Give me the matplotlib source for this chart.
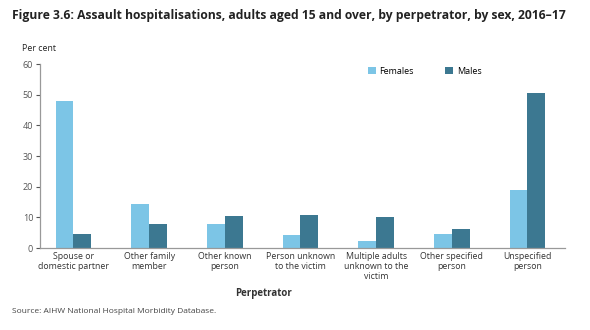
import numpy as np
import matplotlib.pyplot as plt

plt.rcParams["font.family"] = ["Open Sans", "DejaVu Sans"]

categories = ["Spouse or\ndomestic partner", "Other family\nmember", "Other known\nperson",
              "Person unknown\nto the victim", "Multiple adults\nunknown to the\nvictim",
              "Other specified\nperson", "Unspecified\nperson"]
females = [48.0, 14.5, 7.8, 4.3, 2.2, 4.7, 19.0]
males = [4.5, 8.0, 10.5, 10.8, 10.0, 6.2, 50.5]

C_F = "#7cc5e6"
C_M = "#3c7891"
GREY = "#555555"

fig = plt.figure(figsize=(5.9, 3.3), dpi=100)
ax = fig.add_axes([0.068, 0.248, 0.89, 0.558])

x = np.arange(len(categories))
w = 0.235
ax.bar(x - w / 2, females, w, color=C_F, label="Females")
ax.bar(x + w / 2, males, w, color=C_M, label="Males")

ax.set_xlim(-0.44, 6.5)
ax.set_ylim(0, 60)
ax.set_yticks(range(0, 61, 10))
ax.set_xticks(x)
ax.set_xticklabels(categories, fontsize=6.3, color="#333333", linespacing=1.1)
ax.tick_params(axis="y", labelsize=6.5, colors=GREY, length=3, width=0.8, pad=2)
ax.tick_params(axis="x", length=0, pad=3)
for s in ["top", "right"]:
    ax.spines[s].set_visible(False)
for s in ["left", "bottom"]:
    ax.spines[s].set_color("#999999")
    ax.spines[s].set_linewidth(0.9)

ax.legend(loc="upper left", bbox_to_anchor=(0.608, 1.03), ncol=2, frameon=False,
          fontsize=6.5, handlelength=0.9, handleheight=0.9, columnspacing=3.5,
          handletextpad=0.4)

fig.text(0.02, 0.952, "Figure 3.6: Assault hospitalisations, adults aged 15 and over, by perpetrator, by sex, 2016\u201317",
         fontsize=8.7, fontweight="bold", color="#222222", va="center")
fig.text(0.037, 0.852, "Per cent", fontsize=6.3, color="#222222", va="center")
fig.text(0.447, 0.112, "Perpetrator", fontsize=7, fontweight="bold", color="#333333",
         ha="center", va="center")
fig.text(0.02, 0.055, "Source: AIHW National Hospital Morbidity Database.", fontsize=6,
         color="#444444", va="center")

fig.savefig("out.png", dpi=100)
